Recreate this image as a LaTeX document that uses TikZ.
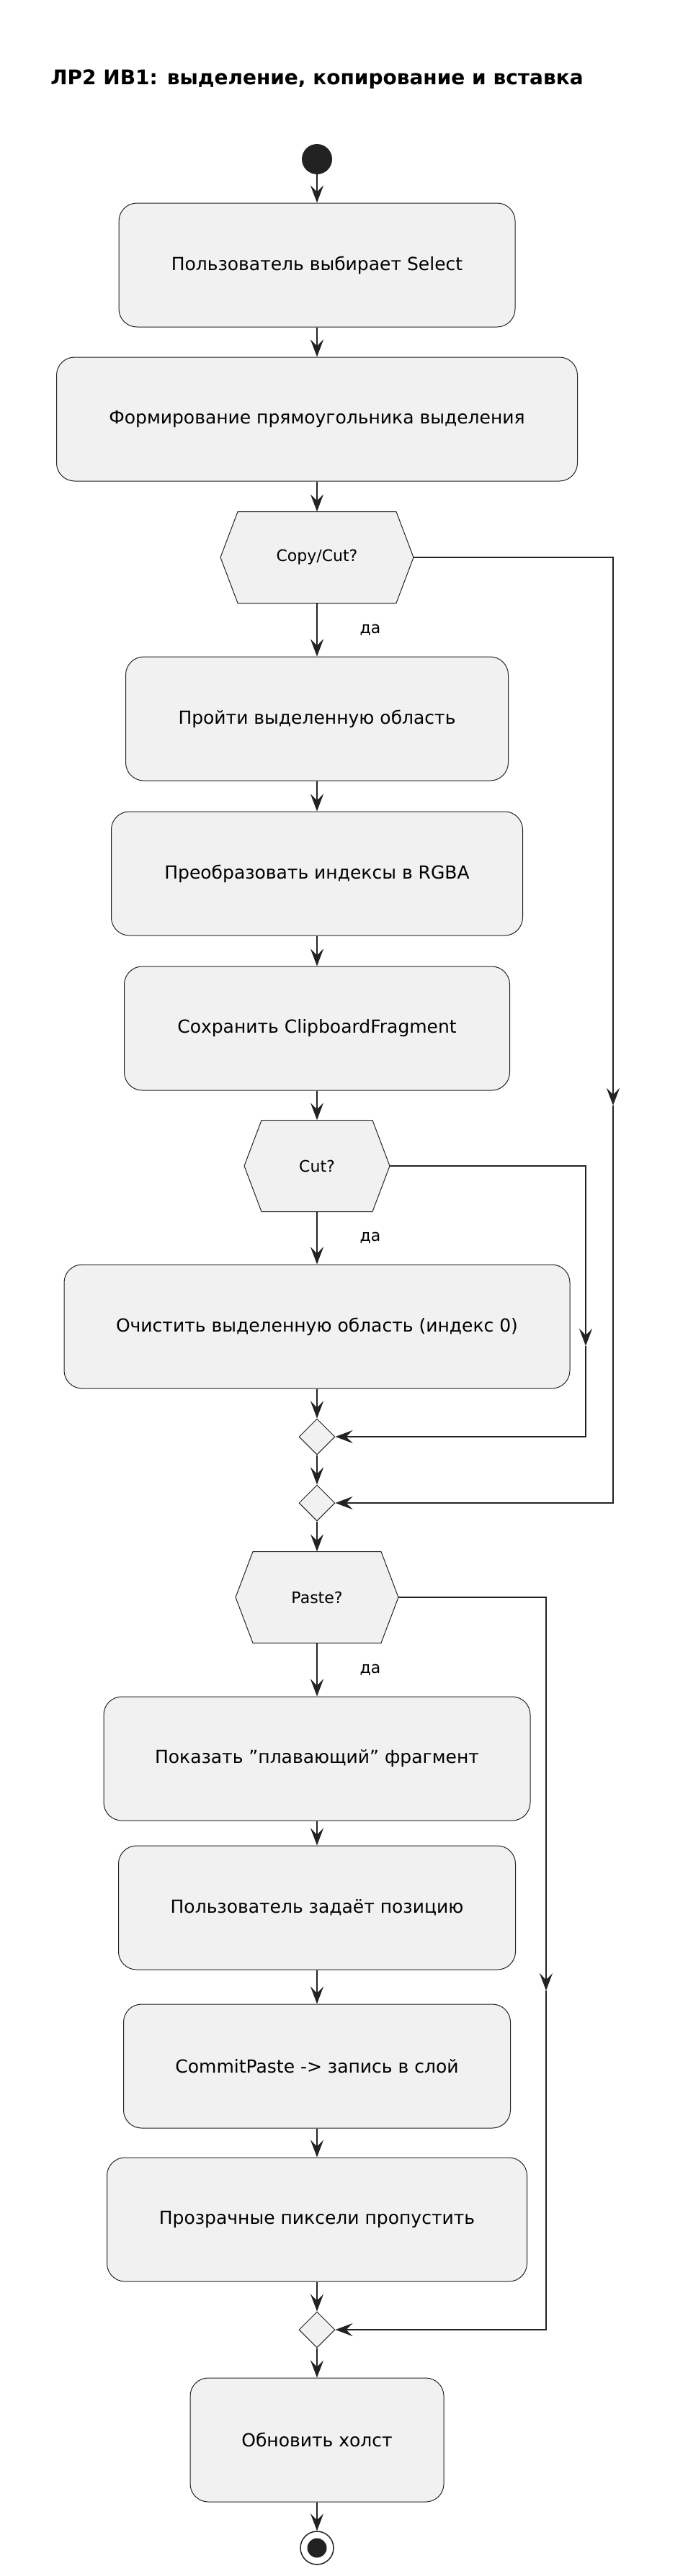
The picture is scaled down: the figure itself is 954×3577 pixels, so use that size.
\documentclass[tikz,border=0pt]{standalone}
\usepackage{fontspec}
\setmainfont{DejaVu Sans}
\usetikzlibrary{shapes.geometric,arrows.meta}
\definecolor{boxfill}{HTML}{F1F1F1}
\definecolor{ink}{HTML}{222222}
\tikzset{
  act/.style={draw=ink, fill=boxfill, line width=1pt, rounded corners=25pt,
    minimum height=172pt, font=\fontsize{25}{30}\selectfont},
  flow/.style={draw=ink, line width=2pt, -{Stealth[length=24pt,width=18pt,inset=9pt]}},
  line/.style={draw=ink, line width=2pt},
  merge/.style={diamond, draw=ink, fill=boxfill, line width=1pt, inner sep=0pt,
    minimum width=50pt, minimum height=50pt},
  cond/.style={font=\fontsize{22}{26}\selectfont, minimum height=127pt},
  lbl/.style={font=\fontsize{22}{26}\selectfont}
}
% hexagon: name, x, y, half width
\newcommand{\hexbox}[5]{%
  \draw[draw=ink, fill=boxfill, line width=1pt]
    (#2-#4,#3) -- (#2-#4+24,#3-63.5) -- (#2+#4-24,#3-63.5) -- (#2+#4,#3)
    -- (#2+#4-24,#3+63.5) -- (#2-#4+24,#3+63.5) -- cycle;
  \node[cond, minimum width=2*#4 pt] (#1) at (#2,#3) {#5};}
\begin{document}
\begin{tikzpicture}[x=1pt, y=-1pt]
  \useasboundingbox (0,0) rectangle (954,3577);
  \node[font=\fontsize{28}{32}\selectfont\bfseries] (title) at (440,110)
    {ЛР2 ИВ1: выделение, копирование и вставка};

  % copy / cut part
  \node[circle, fill=ink, minimum size=42pt, inner sep=0pt] (start) at (440,221) {};
  \node[act, minimum width=550pt] (select) at (440,368) {Пользователь выбирает Select};
  \node[act, minimum width=723pt] (rect) at (440,582) {Формирование прямоугольника выделения};
  \hexbox{copycut}{440}{774}{134}{Copy/Cut?}
  \node[act, minimum width=531pt] (walk) at (440,998) {Пройти выделенную область};
  \node[act, minimum width=571pt] (rgba) at (440,1213) {Преобразовать индексы в RGBA};
  \node[act, minimum width=535pt] (save) at (440,1428) {Сохранить ClipboardFragment};
  \hexbox{cut}{440}{1619}{101}{Cut?}
  \node[act, minimum width=702pt] (clear) at (440,1842) {Очистить выделенную область (индекс 0)};
  \node[merge] (mcut) at (440,1995) {};
  \node[merge] (mcopy) at (440,2087) {};

  % paste part
  \hexbox{paste}{440}{2218}{113}{Paste?}
  \node[act, minimum width=592pt] (float) at (440,2442) {Показать "плавающий" фрагмент};
  \node[act, minimum width=551pt] (pos) at (440,2649) {Пользователь задаёт позицию};
  \node[act, minimum width=537pt] (commit) at (440,2869) {CommitPaste -> запись в слой};
  \node[act, minimum width=583pt] (skip) at (440,3082) {Прозрачные пиксели пропустить};
  \node[merge] (mpaste) at (440,3235) {};
  \node[act, minimum width=352pt] (redraw) at (440,3388) {Обновить холст};
  \node[circle, draw=ink, fill=white, line width=1.5pt, minimum size=46pt, inner sep=0pt] (stop) at (440,3538) {};
  \node[circle, fill=ink, minimum size=27pt, inner sep=0pt] at (stop) {};

  \coordinate (skipcopy) at (851,1535);
  \coordinate (skipcut) at (813,1869);
  \coordinate (skippaste) at (758,2764);

  \draw[flow] (start) -- (select);
  \draw[flow] (select) -- (rect);
  \draw[flow] (rect) -- (copycut);
  \draw[flow] (copycut) -- (walk);
  \node[lbl] (yes1) at (514,875) {да};
  \draw[flow] (walk) -- (rgba);
  \draw[flow] (rgba) -- (save);
  \draw[flow] (save) -- (cut);
  \draw[flow] (cut) -- (clear);
  \node[lbl] (yes2) at (514,1719) {да};
  \draw[flow] (clear) -- (mcut);
  \draw[flow] (mcut) -- (mcopy);
  \draw[flow] (mcopy) -- (paste);
  \draw[flow] (paste) -- (float);
  \node[lbl] (yes3) at (514,2319) {да};
  \draw[flow] (float) -- (pos);
  \draw[flow] (pos) -- (commit);
  \draw[flow] (commit) -- (skip);
  \draw[flow] (skip) -- (mpaste);
  \draw[flow] (mpaste) -- (redraw);
  \draw[flow] (redraw) -- (stop);

  % bypass branches
  \draw[flow] (copycut.east) -| (skipcopy);
  \draw[flow] (skipcopy) |- (mcopy.east);
  \draw[flow] (cut.east) -| (skipcut);
  \draw[flow] (skipcut) |- (mcut.east);
  \draw[flow] (paste.east) -| (skippaste);
  \draw[flow] (skippaste) |- (mpaste.east);
\end{tikzpicture}
\end{document}
